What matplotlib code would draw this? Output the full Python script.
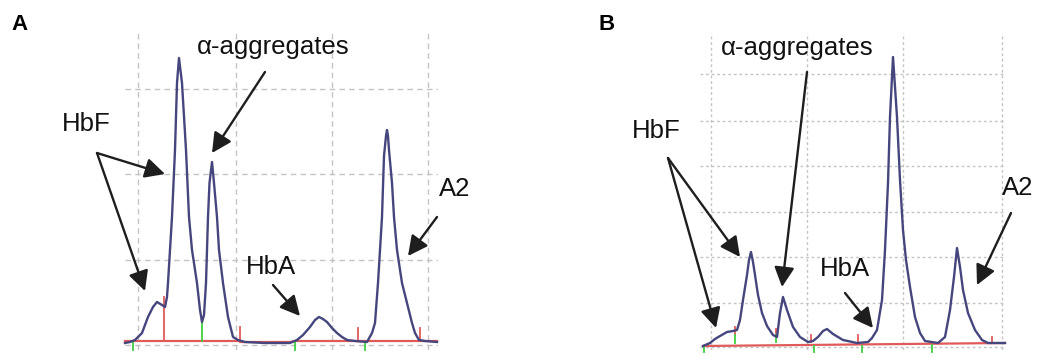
import numpy as np
import matplotlib.pyplot as plt

plt.rcParams['font.family'] = ['Liberation Sans', 'DejaVu Sans']

# panel A trace: retention index vs detector signal (above baseline)
a_time = [0, 5, 10, 17, 23, 28, 32, 37, 40, 42, 43, 47, 50, 52, 54, 57, 61, 64, 67, 72,
          75, 77, 79, 81, 83, 84.5, 87, 89, 92, 94, 98, 103, 108, 113, 120, 140, 165,
          172, 178, 185, 190, 194, 198, 202, 207, 212, 217, 222, 230, 242, 247, 250, 253,
          255, 257, 259, 261, 262, 263, 264, 267, 269, 272, 277, 282, 287, 290, 294, 300, 312]
a_signal = [-2, -1, 1, 8, 24, 34, 39, 36, 34, 44, 58, 124, 191, 258, 283, 258, 191, 124, 91, 58,
            31, 19, 26, 58, 124, 158, 179, 158, 124, 91, 58, 24, 4, 1, -1, -2, -2,
            1, 6, 14, 21, 24, 22, 19, 13, 8, 4, 1, 0, -1, 8, 18, 58,
            91, 124, 185, 205, 211, 205, 191, 158, 124, 91, 58, 38, 18, 8, 1, 0, -1]

# panel B trace
b_time = [0, 7, 12, 17, 24, 30, 34, 37, 40, 44, 46, 48, 50, 52, 55, 59, 64, 70, 74, 77,
          80, 84, 90, 97, 105, 110, 115, 120, 124, 130, 140, 154, 165, 169, 174, 179, 182,
          185, 187, 190, 194, 197, 200, 203, 207, 212, 217, 222, 235, 242, 247, 251, 254,
          257, 260, 265, 272, 279, 285, 302]
b_signal = [-1, 2, 6, 9, 13, 14, 15, 25, 45, 70, 85, 93, 83, 70, 50, 32, 19, 10, 8, 32,
            48, 35, 18, 8, 3, 4, 8, 14, 16, 11, 5, 2, 3, 7, 15, 45, 95,
            162, 228, 288, 228, 165, 115, 85, 58, 28, 12, 4, 2, 8, 35, 68, 97,
            78, 55, 32, 15, 5, 2, 2]

# integration marks: (time, start, end)
a_red_marks = [(39, 0, 44), (115, 0, 14), (233, 0, 13), (295, 0, 13)]
a_green_marks = [(77, 0, 22), (8, -1, -9), (170, -1, -9), (240, -1, -9)]
b_red_marks = [(32, 10, 18), (73, 10, 16), (108, 3, 10), (155, 2, 10), (289, 2, 8)]
b_green_marks = [(32, 2, 10), (73, 3, 10), (1, -1, -7), (111, -1, -7), (159, -1, -7), (229, 0, -7)]

fig = plt.figure(figsize=(10.42, 3.58), dpi=100)

trace_col = '#46467e'
red_col = '#e05a5a'
green_col = '#3fcf3f'
grid_col = '#c4c4c4'

def panel(rect, xlim, ylim, xgrid, ygrid, dash, t, s, base, reds, greens):
    ax = fig.add_axes(rect)
    ax.set_xlim(*xlim)
    ax.set_ylim(*ylim)
    ax.set_xticks(xgrid)
    ax.set_yticks(ygrid)
    ax.tick_params(length=0, labelbottom=False, labelleft=False)
    for sp in ax.spines.values():
        sp.set_visible(False)
    ax.grid(True, color=grid_col, lw=1.0, ls=(0, dash))
    ax.plot(base[0], base[1], color=red_col, lw=1.6, clip_on=False, zorder=2)
    for x, y0, y1 in reds:
        ax.plot([x, x], [y0, y1], color=red_col, lw=1.3, clip_on=False, zorder=3)
    for x, y0, y1 in greens:
        ax.plot([x, x], [y0, y1], color=green_col, lw=1.3, clip_on=False, zorder=3)
    ax.plot(t, s, color=trace_col, lw=1.7, clip_on=False, zorder=4)
    return ax

panel([125 / 1042, 8 / 358, 313 / 1042, 317 / 358], (0, 313), (-9, 308),
      [13, 111, 207, 303], [-4, 81, 167, 252], (4, 3), a_time, a_signal,
      ([0, 115, 115, 165, 170, 312], [0, 0, -1, -1, 0, 0]), a_red_marks, a_green_marks)

panel([700 / 1042, 8 / 358, 305 / 1042, 317 / 358], (-3, 302), (-5, 312),
      [8, 104, 200, 299], [-2, 42, 88, 133, 179, 224, 271], (2, 2), b_time, b_signal,
      ([0, 302], [-1, 2]), b_red_marks, b_green_marks)

# overlay for labels and arrows (pixel coordinates)
ov = fig.add_axes([0, 0, 1, 1])
ov.set_xlim(0, 1042)
ov.set_ylim(358, 0)
ov.axis('off')
ov.patch.set_alpha(0)

ov.text(20, 25, 'A', fontsize=16, fontweight='bold', ha='center', va='center')
ov.text(607, 25, 'B', fontsize=16, fontweight='bold', ha='center', va='center')

lab = dict(fontsize=18.5, ha='center', va='center', color='#111111')
ov.text(86, 124, 'HbF', **lab)
ov.text(273, 47, 'α-aggregates', **lab)
ov.text(271, 267, 'HbA', **lab)
ov.text(455, 189, 'A2', **lab)
ov.text(656, 131, 'HbF', **lab)
ov.text(797, 48, 'α-aggregates', **lab)
ov.text(845, 269, 'HbA', **lab)
ov.text(1018, 188, 'A2', **lab)

arrows = [((97, 153), (165, 174)), ((97, 153), (145, 291)), ((265, 72), (212, 153)),
          ((273, 285), (300, 316)), ((437, 217), (408, 256)),
          ((668, 158), (740, 257)), ((668, 158), (716, 328)), ((807, 72), (782, 287)),
          ((845, 293), (873, 328)), ((1011, 213), (977, 285))]
for start, tip in arrows:
    ov.annotate('', xy=tip, xytext=start,
                arrowprops=dict(arrowstyle='-|>,head_length=0.75,head_width=0.38',
                                color='#1e1e1e', lw=1.7, mutation_scale=16,
                                shrinkA=0, shrinkB=0))

fig.savefig('out.png', dpi=100, facecolor='white')
